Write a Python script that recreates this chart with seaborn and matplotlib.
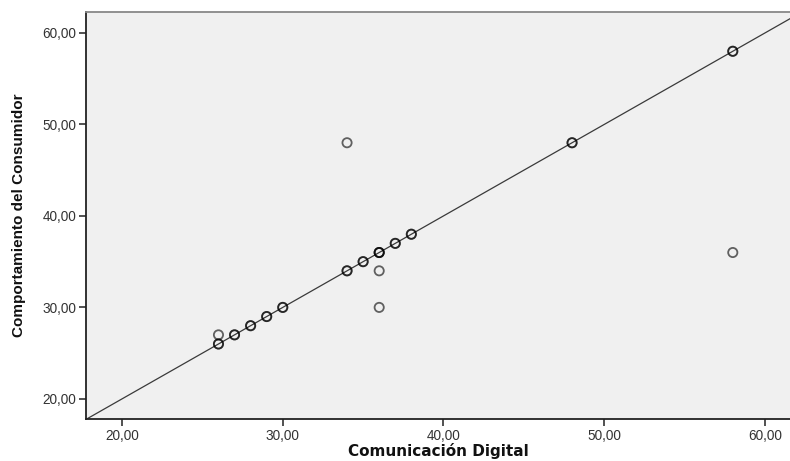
import pandas as pd
import matplotlib.pyplot as plt
import seaborn as sns
from matplotlib.ticker import FuncFormatter

# --- Data ---
# points on the diagonal were drawn several times (darker rings)
x_vals = [26, 26, 27, 27, 28, 28, 29, 29, 30, 30, 34, 34, 35, 35, 36, 36, 36,
          37, 37, 38, 38, 48, 48, 58, 58,
          26, 34, 36, 36, 58]
y_vals = [26, 26, 27, 27, 28, 28, 29, 29, 30, 30, 34, 34, 35, 35, 36, 36, 36,
          37, 37, 38, 38, 48, 48, 58, 58,
          27, 48, 34, 30, 36]
x_ticks = [20, 30, 40, 50, 60]
y_ticks = [20, 30, 40, 50, 60]

df = pd.DataFrame({"Comunicación Digital": x_vals,
                   "Comportamiento del Consumidor": y_vals})

sns.set_style("white")
plt.rcParams['font.family'] = ['Liberation Sans', 'DejaVu Sans']

fig = plt.figure(figsize=(7.9, 4.61), dpi=100)
ax = fig.add_axes([0.1089, 0.0911, 0.8911, 0.883])
ax.set_facecolor("#f0f0f0")

# --- Reference line y = x ---
ax.plot([17, 63], [17, 63], color="#3a3a3a", lw=0.9, zorder=1)

# --- Scatter ---
sns.scatterplot(data=df, x="Comunicación Digital", y="Comportamiento del Consumidor",
                ax=ax, marker="o", s=44, facecolors="none", edgecolor="black",
                linewidth=1.3, alpha=0.6, zorder=2)

ax.set_xlim(17.76, 61.56)
ax.set_ylim(17.8, 62.3)
ax.set_xticks(x_ticks)
ax.set_yticks(y_ticks)
fmt = FuncFormatter(lambda v, p: f"{v:.2f}".replace(".", ","))
ax.xaxis.set_major_formatter(fmt)
ax.yaxis.set_major_formatter(fmt)
ax.tick_params(axis="both", direction="out", length=5, width=1.2, labelsize=9.8,
               labelcolor="#333333", color="#333333", left=True, bottom=True, pad=2)

for side in ["left", "bottom"]:
    ax.spines[side].set_color("#222222")
    ax.spines[side].set_linewidth(1.3)
ax.spines["top"].set_color("#888888")
ax.spines["top"].set_linewidth(1.3)
ax.spines["right"].set_visible(False)

ax.set_xlabel("Comunicación Digital", fontsize=11, fontweight="bold", labelpad=0,
              family=['DejaVu Sans'], color="#111111")
ax.set_ylabel("Comportamiento del Consumidor", fontsize=11, fontweight="bold",
              family=['Liberation Sans Narrow', 'Liberation Sans', 'DejaVu Sans'],
              labelpad=12, color="#111111")

fig.savefig("out.png", dpi=100)
